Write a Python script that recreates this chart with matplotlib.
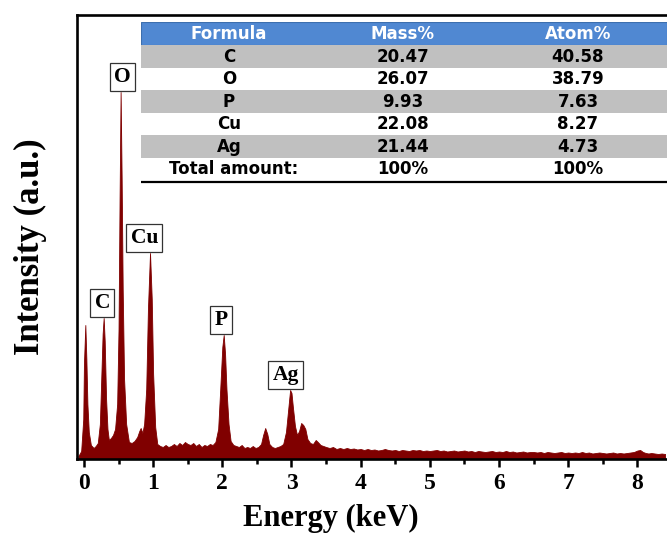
import matplotlib
matplotlib.use("Agg")
import matplotlib.pyplot as plt
from matplotlib.patches import Rectangle

# ---------------- data ----------------
energy_kev = [
    -0.08, -0.04, -0.01, 0.00, 0.02, 0.035, 0.05, 0.07, 0.10, 0.14, 0.17, 0.20,
    0.23, 0.25, 0.27, 0.285, 0.30, 0.32, 0.34, 0.36, 0.39, 0.42, 0.45, 0.48, 0.50,
    0.515, 0.53, 0.545, 0.56, 0.58, 0.61, 0.65, 0.69, 0.73, 0.77, 0.80, 0.82, 0.845,
    0.87, 0.90, 0.925, 0.955, 0.98, 1.00, 1.03, 1.06, 1.10, 1.14,
    1.18, 1.22, 1.26, 1.30, 1.34, 1.38, 1.42, 1.46, 1.50, 1.54, 1.58, 1.62,
    1.66, 1.70, 1.74, 1.78, 1.82, 1.86, 1.90, 1.94, 1.97, 2.00, 2.02, 2.04,
    2.06, 2.09, 2.12, 2.16, 2.20, 2.24, 2.28, 2.32, 2.36, 2.40, 2.44, 2.48,
    2.52, 2.56, 2.59, 2.62, 2.65, 2.68, 2.72, 2.76, 2.80, 2.84, 2.88, 2.92,
    2.95, 2.98, 3.00, 3.02, 3.05, 3.08, 3.11, 3.14, 3.17, 3.20, 3.23, 3.27,
    3.31, 3.35, 3.38, 3.42, 3.46, 3.50, 3.55, 3.60, 3.65, 3.70, 3.75, 3.80,
    3.85, 3.90, 3.95, 4.00, 4.05, 4.10, 4.15, 4.20, 4.25, 4.30, 4.35, 4.40,
    4.45, 4.50, 4.55, 4.60, 4.65, 4.70, 4.75, 4.80, 4.85, 4.90, 4.95, 5.00,
    5.05, 5.10, 5.15, 5.20, 5.25, 5.30, 5.35, 5.40, 5.45, 5.50, 5.55, 5.60,
    5.65, 5.70, 5.75, 5.80, 5.85, 5.90, 5.95, 6.00, 6.05, 6.10, 6.15, 6.20,
    6.25, 6.30, 6.35, 6.40, 6.45, 6.50, 6.55, 6.60, 6.65, 6.70, 6.75, 6.80,
    6.85, 6.90, 6.95, 7.00, 7.05, 7.10, 7.15, 7.20, 7.25, 7.30, 7.35, 7.40,
    7.45, 7.50, 7.55, 7.60, 7.65, 7.70, 7.75, 7.80, 7.85, 7.90, 7.95, 8.00,
    8.04, 8.08, 8.12, 8.16, 8.20, 8.25, 8.30, 8.35, 8.40,
]
intensity = [
    3, 8, 40, 95, 134, 100, 55, 27, 14, 11, 13, 16,
    35, 80, 125, 141, 118, 60, 30, 19, 21, 24, 30, 55, 130,
    260, 367, 280, 170, 80, 35, 17, 16, 18, 22, 28, 31, 26,
    35, 70, 150, 206, 160, 85, 32, 15, 13, 12,
    14, 12, 13, 15, 13, 16, 14, 17, 15, 14, 16, 13,
    15, 12, 14, 13, 15, 14, 17, 30, 70, 112, 124, 105,
    70, 35, 18, 14, 13, 12, 14, 11, 12, 11, 13, 11,
    12, 15, 24, 31, 25, 15, 12, 11, 12, 13, 15, 27,
    48, 69, 66, 52, 33, 24, 28, 36, 34, 30, 20, 16,
    15, 19, 17, 14, 13, 12, 11, 12, 10, 11, 10, 11,
    10, 10.5, 9.5, 10, 9, 10, 9, 9.5, 8.5, 9, 10, 9,
    8.5, 9, 8, 9, 8.5, 8, 9, 8.5, 9, 8, 8.5, 8,
    8.5, 9, 8, 8.5, 7.5, 8, 8.5, 7.5, 8, 8.5, 7.5, 8,
    7, 8, 7.5, 7, 7.5, 8, 7, 7.5, 7, 8, 7, 7.5,
    6.5, 7, 7.5, 6.5, 7, 7, 6.5, 7, 6, 7, 6.5, 6,
    6.5, 7, 6, 6.5, 6, 6.5, 6, 7, 6, 6.5, 5.5, 6,
    6.5, 6, 5.5, 6, 6.5, 5.5, 6, 5.5, 6, 6.5, 7, 8.5,
    9, 7, 6, 5.5, 6, 5.5, 5, 5.5, 5,
]

peak_labels = ["C", "O", "Cu", "P", "Ag"]
peak_energy = [0.285, 0.53, 0.955, 2.02, 2.98]
peak_height = [141, 367, 206, 124, 69]

table_header = ["Formula", "Mass%", "Atom%"]
table_elements = ["C", "O", "P", "Cu", "Ag", "Total amount:"]
table_mass = ["20.47", "26.07", "9.93", "22.08", "21.44", "100%"]
table_atom = ["40.58", "38.79", "7.63", "8.27", "4.73", "100%"]

x_ticks = [0, 1, 2, 3, 4, 5, 6, 7, 8]

# ---------------- figure ----------------
W, H = 667, 549
fig = plt.figure(figsize=(W / 100, H / 100), dpi=100)
serif = "Liberation Serif"

ax_l, ax_b, ax_r, ax_t = 77, 459, 667, 15
ax = fig.add_axes([ax_l / W, 1 - ax_b / H, (ax_r - ax_l + 5) / W, (ax_b - ax_t) / H])

dark_red = "#800000"
ax.fill_between(energy_kev, 0, intensity, color=dark_red, lw=0.6, edgecolor=dark_red)

px_per_kev = 69.7
xmin = -(84 - ax_l) / px_per_kev
xmax = xmin + (ax_r - ax_l + 5) / px_per_kev
ax.set_xlim(xmin, xmax)
ax.set_ylim(0, ax_b - ax_t)

for s in ["left", "top", "bottom"]:
    ax.spines[s].set_linewidth(1.9)
ax.spines["right"].set_visible(False)

ax.set_xticks(x_ticks)
ax.set_xticks([t + 0.5 for t in x_ticks], minor=True)
ax.set_yticks([])
ax.tick_params(axis="x", which="major", direction="out", length=6, width=1.8, pad=4)
ax.tick_params(axis="x", which="minor", direction="out", length=3.5, width=1.8)
for lab in ax.get_xticklabels():
    lab.set_fontfamily(serif)
    lab.set_fontweight("bold")
    lab.set_fontsize(17)

ax.set_xlabel("Energy (keV)", fontfamily=serif, fontweight="bold", fontsize=22)
ax.xaxis.set_label_coords((331 - ax_l) / (ax_r - ax_l + 5), -(504 - ax_b) / (ax_b - ax_t))
ax.set_ylabel("Intensity (a.u.)", fontfamily=serif, fontweight="bold", fontsize=25)
ax.yaxis.set_label_coords(-(ax_l - 47) / (ax_r - ax_l + 5), (ax_b - 247) / (ax_b - ax_t))

# peak labels
label_dx = [-1, 1.5, -4, -2, -3]
for lab, e, h, dx in zip(peak_labels, peak_energy, peak_height, label_dx):
    ax.annotate(lab, xy=(e, h), xytext=(dx, 3.5), textcoords="offset points",
                ha="center", va="bottom", fontfamily=serif, fontweight="bold",
                fontsize=15.5,
                bbox=dict(boxstyle="square,pad=0.2", fc="white", ec="#333333", lw=0.9))

# ---------------- table ----------------
t_left, t_top, t_right, t_bottom = 141, 22, 667, 182
tab = fig.add_axes([t_left / W, 1 - t_bottom / H, (t_right - t_left) / W, (t_bottom - t_top) / H])
tab.set_xlim(0, t_right - t_left)
tab.set_ylim(t_bottom - t_top, 0)
tab.axis("off")
tw = t_right - t_left
header_h = 23
row_h = 22.5
blue = "#5088d2"
gray = "#c0c0c0"
tab.add_patch(Rectangle((0, 0), tw, header_h, fc=blue, ec="#3d6fae", lw=0.8))
col_x = [88, 262, 437]
for txt, cx in zip(table_header, col_x):
    tab.text(cx, header_h / 2 + 0.5, txt, ha="center", va="center", color="white",
             fontfamily="DejaVu Sans", fontweight="bold", fontsize=12)
for i, (el, m, a) in enumerate(zip(table_elements, table_mass, table_atom)):
    y0 = header_h + i * row_h
    if i % 2 == 0 and i < 5:
        tab.add_patch(Rectangle((0, y0), tw, row_h, fc=gray, ec="none"))
    yc = y0 + row_h / 2 + 0.5
    cx0 = col_x[0] + (5 if i == 5 else 0)
    for txt, cx in zip([el, m, a], [cx0, col_x[1], col_x[2]]):
        tab.text(cx, yc, txt, ha="center", va="center", color="black",
                 fontfamily="DejaVu Sans", fontweight="bold", fontsize=12)
yb = header_h + 6 * row_h + 1.5
tab.plot([0, tw], [yb, yb], color="black", lw=1.6, solid_capstyle="butt", clip_on=False)

fig.savefig("out.png", dpi=100)
